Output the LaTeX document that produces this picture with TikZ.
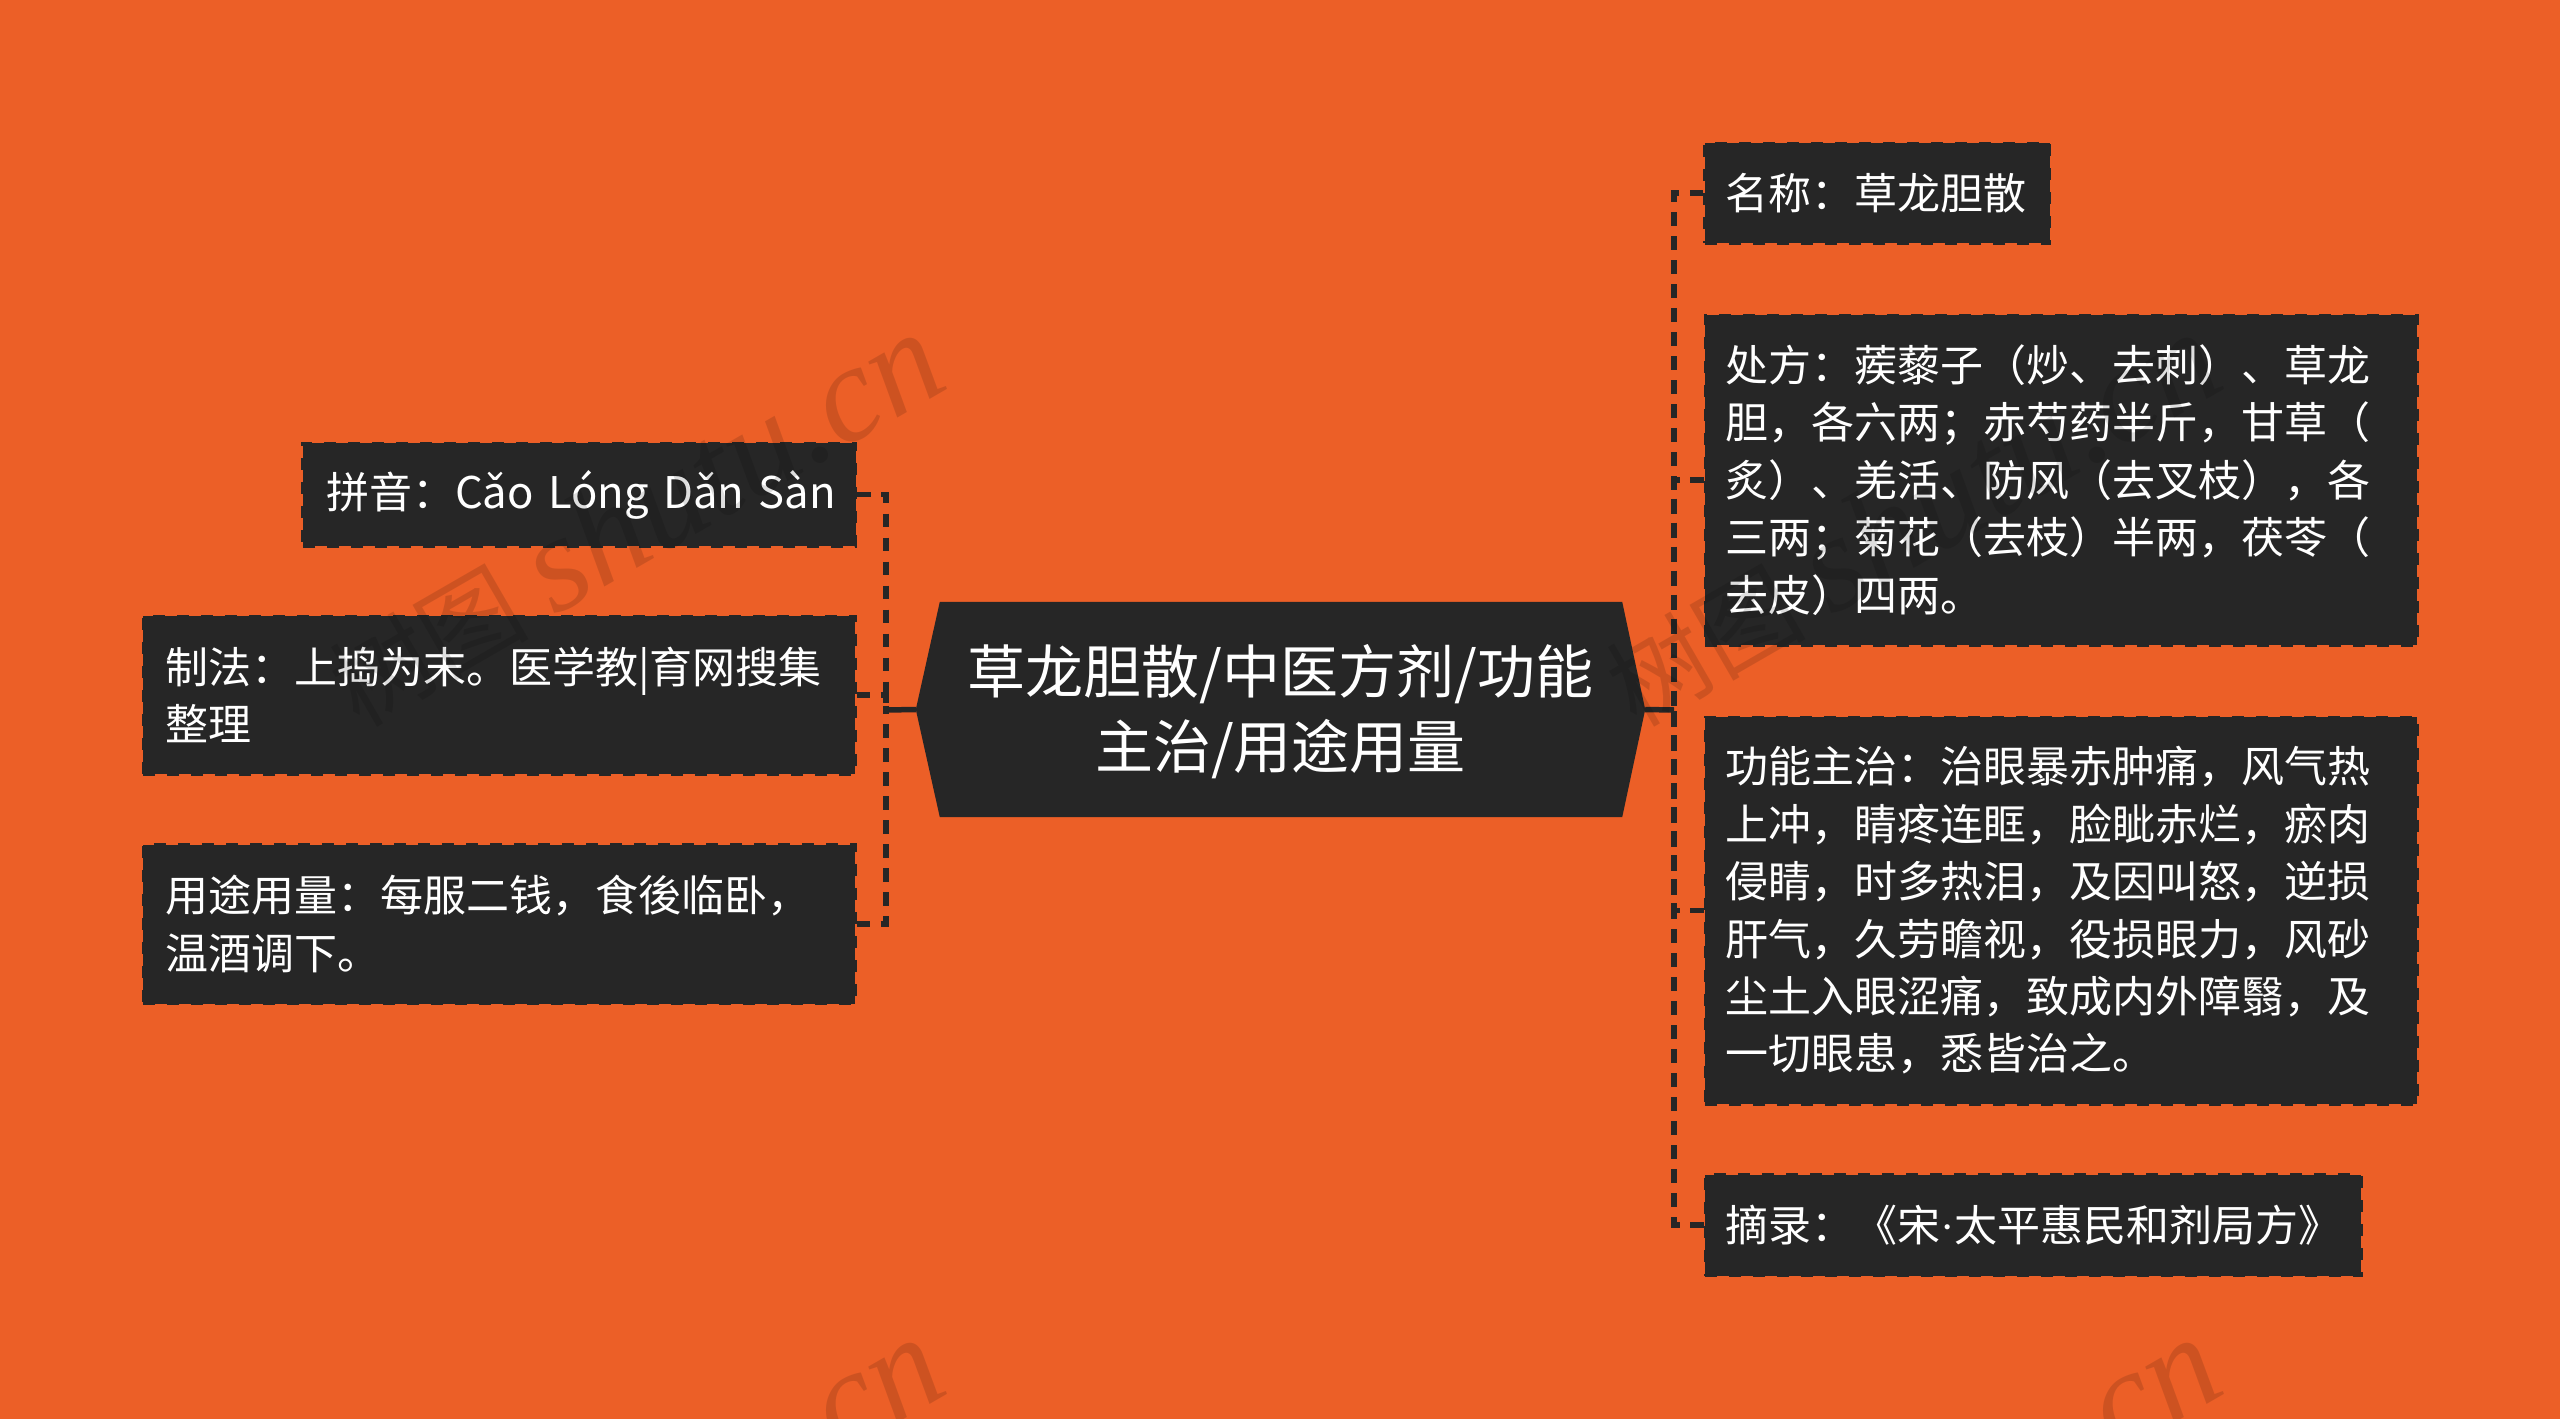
\documentclass[tikz,border=0pt]{standalone}
\usepackage{fontspec}
\setmainfont{Noto Sans CJK SC}
\newfontfamily\wmcjk{Noto Sans CJK SC}
\newfontfamily\wmlat{Liberation Serif}
\usetikzlibrary{backgrounds,calc}
\definecolor{bgorange}{HTML}{EC5F27}
\definecolor{boxdark}{HTML}{262626}
\tikzset{
  mmbox/.style={rectangle,fill=boxdark,draw=boxdark,line width=3pt,dash pattern=on 12pt off 12pt,
    inner sep=0pt,text=white,align=left,font=\fontsize{43pt}{57.4pt}\selectfont},
  root/.style={rectangle,inner sep=0pt,minimum width=729pt,minimum height=215pt},
  roottext/.style={rectangle,inner sep=0pt,text=white,align=center,font=\fontsize{58pt}{75pt}\selectfont},
  elbow/.style={draw=boxdark,line width=5.5pt,dash pattern=on 13.5pt off 10.5pt},
  stub/.style={draw=boxdark,line width=5.5pt},
  wmark/.style={anchor=base east,rotate=30,text=black,opacity=.13,inner sep=0pt}
}
\begin{document}
\begin{tikzpicture}[x=1pt,y=-1pt]
\useasboundingbox (0,0) rectangle (2560,1419);
\begin{pgfonlayer}{background}
  \fill[bgorange] (0,0) rectangle (2560,1419);
\end{pgfonlayer}

\node[root] (c) at (1280.5,709.5) {};
\node[roottext] (ct) at (1280.5,711.5) {草龙胆散/中医方剂/功能\\主治/用途用量};
\begin{pgfonlayer}{background}
  \fill[boxdark] (c.west) -- ($(c.north west)+(24pt,0pt)$) -- ($(c.north east)+(-23pt,0pt)$) -- (c.east)
    -- ($(c.south east)+(-23pt,0pt)$) -- ($(c.south west)+(24pt,0pt)$) -- cycle;
\end{pgfonlayer}

% left
\node[mmbox,minimum width=553pt,minimum height=103pt,text width=506pt] (py) at (579,494.5) {\raisebox{-1.5pt}{拼音：\fontsize{43.6pt}{57.4pt}\selectfont Cǎo Lóng Dǎn Sàn}};
\node[mmbox,minimum width=712pt,minimum height=158pt,text width=668pt] (zf) at (499,695) {制法：上捣为末。医学教|育网搜集\\整理};
\node[mmbox,minimum width=712pt,minimum height=159pt,text width=668pt] (yt) at (499,924) {用途用量：每服二钱，食後临卧，\\温酒调下。};
% right
\node[mmbox,minimum width=345pt,minimum height=100pt,text width=303pt] (mc) at (1877,193) {名称：草龙胆散};
\node[mmbox,minimum width=712pt,minimum height=330pt,text width=671pt] (cf) at (2061,480) {处方：蒺藜子（炒、去刺）、草龙\\胆，各六两；赤芍药半斤，甘草（\\炙）、羌活、防风（去叉枝），各\\三两；菊花（去枝）半两，茯苓（\\去皮）四两。};
\node[mmbox,minimum width=712pt,minimum height=387pt,text width=671pt] (gn) at (2061,910.5) {功能主治：治眼暴赤肿痛，风气热\\上冲，睛疼连眶，脸眦赤烂，瘀肉\\侵睛，时多热泪，及因叫怒，逆损\\肝气，久劳瞻视，役损眼力，风砂\\尘土入眼涩痛，致成内外障翳，及\\一切眼患，悉皆治之。};
\node[mmbox,minimum width=656pt,minimum height=101pt,text width=615pt] (zl) at (2033,1225) {摘录：《宋{\wmlat ·}太平惠民和剂局方》};

\coordinate (lv) at (886,710);
\coordinate (rv) at (1674,710);
\begin{pgfonlayer}{background}
  \draw[elbow] (py.east) -| (lv);
  \draw[elbow] (zf.east) -| (lv);
  \draw[elbow] (yt.east) -| (lv);
  \draw[elbow] (mc.west) -| (rv);
  \draw[elbow] (cf.west) -| (rv);
  \draw[elbow] (gn.west) -| (rv);
  \draw[elbow] (zl.west) -| (rv);
  \draw[stub] (c.west) -- (lv);
  \draw[stub] (c.east) -- (rv);
\end{pgfonlayer}

% watermarks
\foreach \wx/\wy/\wn in {953/386/a,2230/386/b,953/1391/c,2230/1391/d}{
  \node[wmark] (wm\wn) at (\wx,\wy) {{\fontsize{100pt}{100pt}\selectfont\wmcjk 树图}\hspace{25pt}{\fontsize{137pt}{137pt}\selectfont\wmlat\itshape shutu.cn}};
}
\end{tikzpicture}
\end{document}
